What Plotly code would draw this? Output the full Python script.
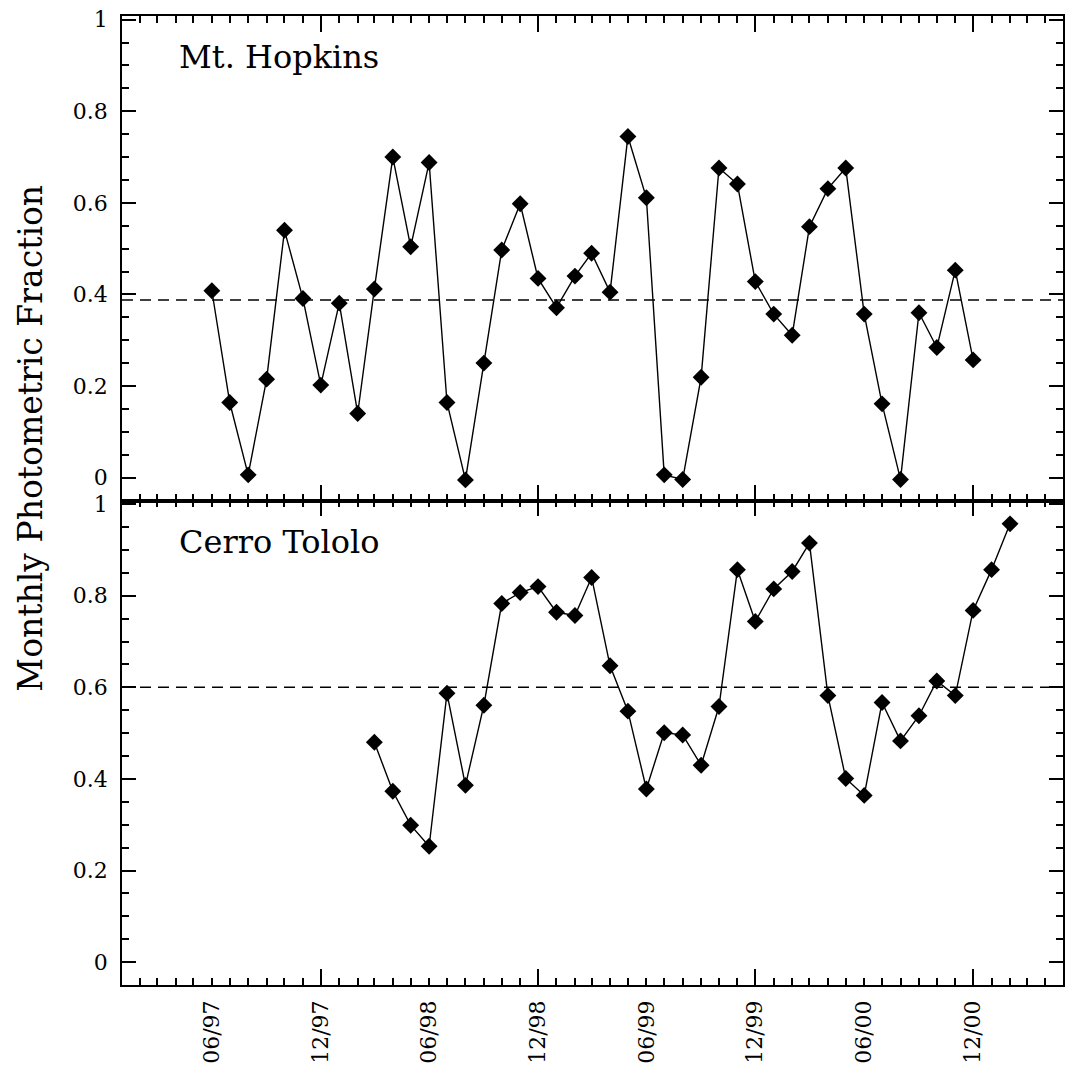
import pandas as pd
import plotly.graph_objects as go

# ---------------- data ----------------
hopkins_start = "1997-06-01"
hopkins_values = [0.408, 0.164, 0.006, 0.215, 0.540, 0.391, 0.202, 0.381, 0.140, 0.412,
                  0.700, 0.504, 0.688, 0.164, -0.005, 0.250, 0.497, 0.598, 0.435, 0.371,
                  0.440, 0.490, 0.405, 0.745, 0.611, 0.006, -0.004, 0.219, 0.676, 0.641,
                  0.428, 0.357, 0.311, 0.548, 0.631, 0.676, 0.357, 0.161, -0.004, 0.360,
                  0.284, 0.453, 0.257]
hopkins_mean = 0.388

tololo_start = "1998-03-01"
tololo_values = [0.480, 0.373, 0.299, 0.253, 0.587, 0.386, 0.561, 0.783, 0.807, 0.820,
                 0.764, 0.757, 0.840, 0.647, 0.548, 0.378, 0.501, 0.496, 0.430, 0.558,
                 0.857, 0.744, 0.815, 0.853, 0.915, 0.582, 0.401, 0.364, 0.567, 0.483,
                 0.538, 0.614, 0.582, 0.768, 0.857, 0.957]
tololo_mean = 0.600

tick_dates = ["1997-06-01", "1997-12-01", "1998-06-01", "1998-12-01",
              "1999-06-01", "1999-12-01", "2000-06-01", "2000-12-01"]
tick_labels = ["06/97", "12/97", "06/98", "12/98", "06/99", "12/99", "06/00", "12/00"]

x_range = ["1997-01-01", "2001-05-01"]
y_range = [-0.05, 1.008]

hopkins_dates = pd.date_range(hopkins_start, periods=len(hopkins_values), freq="MS")
tololo_dates = pd.date_range(tololo_start, periods=len(tololo_values), freq="MS")

FONT = "DejaVu Serif"

fig = go.Figure()

marker = dict(symbol="diamond", size=13, color="black")
line = dict(color="black", width=1.4)

fig.add_trace(go.Scatter(x=hopkins_dates, y=hopkins_values, mode="lines+markers",
                         marker=marker, line=line, xaxis="x", yaxis="y",
                         showlegend=False, hoverinfo="x+y"))
fig.add_trace(go.Scatter(x=tololo_dates, y=tololo_values, mode="lines+markers",
                         marker=marker, line=line, xaxis="x2", yaxis="y2",
                         showlegend=False, hoverinfo="x+y"))
# invisible trace to carry the label axis
fig.add_trace(go.Scatter(x=[tick_dates[0]], y=[None], mode="markers", xaxis="x3", yaxis="y2",
                         showlegend=False, hoverinfo="skip", marker=dict(opacity=0)))

common_x = dict(type="date", range=x_range, showline=True, linecolor="black", linewidth=1.5,
                mirror="ticks", ticks="inside", ticklen=16, tickwidth=1.5, tickcolor="black",
                tick0="1997-12-01", dtick="M12", showticklabels=False, showgrid=False,
                zeroline=False,
                minor=dict(ticks="inside", ticklen=7, tickwidth=1.5, tickcolor="black",
                           dtick="M1", tick0="1997-01-01", showgrid=False))

common_y = dict(range=y_range, showline=True, linecolor="black", linewidth=1.5,
                mirror="ticks", ticks="inside", ticklen=14, tickwidth=1.5, tickcolor="black",
                tick0=0, dtick=0.2, showgrid=False, zeroline=False,
                tickfont=dict(family=FONT, size=22, color="black"),
                ticklabelstandoff=8,
                minor=dict(ticks="inside", ticklen=7, tickwidth=1.5, tickcolor="black",
                           dtick=0.05, tick0=0, showgrid=False))

fig.update_layout(
    width=1072, height=1075,
    margin=dict(l=122, r=7, t=14, b=90),
    paper_bgcolor="white", plot_bgcolor="white",
    xaxis=dict(domain=[0, 1], anchor="y", **common_x),
    xaxis2=dict(domain=[0, 1], anchor="y2", **common_x),
    xaxis3=dict(type="date", range=x_range, overlaying="x2", anchor="y2", side="bottom",
                tickvals=tick_dates, ticktext=tick_labels, tickangle=-90, ticks="",
                showline=False, showgrid=False, zeroline=False,
                tickfont=dict(family=FONT, size=22, color="black"),
                ticklabelstandoff=10),
    yaxis=dict(domain=[0.5, 1], anchor="x", **common_y),
    yaxis2=dict(domain=[0, 0.5], anchor="x2", **common_y),
)

dash = "11px,7px"
fig.add_shape(type="line", xref="x domain", yref="y", x0=0, x1=1,
              y0=hopkins_mean, y1=hopkins_mean, line=dict(color="black", width=1.5, dash=dash))
fig.add_shape(type="line", xref="x2 domain", yref="y2", x0=0, x1=1,
              y0=tololo_mean, y1=tololo_mean, line=dict(color="black", width=1.5, dash=dash))

fig.add_annotation(text="Mt. Hopkins", xref="paper", yref="paper", x=0.058, y=0.958,
                   xanchor="left", yanchor="middle", showarrow=False,
                   font=dict(family=FONT, size=32, color="black"))
fig.add_annotation(text="Cerro Tololo", xref="paper", yref="paper", x=0.058, y=0.457,
                   xanchor="left", yanchor="middle", showarrow=False,
                   font=dict(family=FONT, size=32, color="black"))
fig.add_annotation(text="Monthly Photometric Fraction", xref="paper", yref="paper",
                   x=-0.0976, y=0.564, xanchor="center", yanchor="middle", textangle=-90,
                   showarrow=False, font=dict(family=FONT, size=33, color="black"))

fig.write_html("out.html")
